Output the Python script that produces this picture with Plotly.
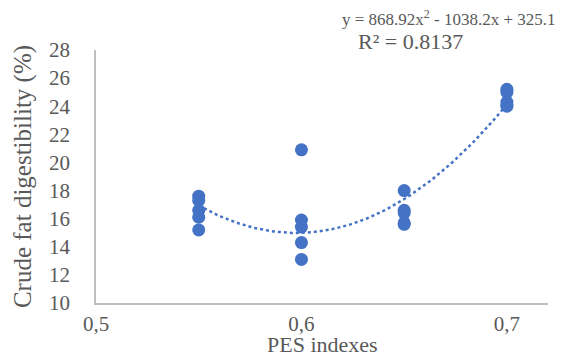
import plotly.graph_objects as go
import numpy as np

# Data
pes_index = [0.55]*5 + [0.60]*5 + [0.65]*5 + [0.70]*5
crude_fat_digestibility = [17.6, 17.3, 16.6, 16.1, 15.2,
                           20.9, 15.9, 15.4, 14.3, 13.1,
                           18.0, 16.6, 16.4, 15.7, 15.6,
                           25.2, 25.0, 24.3, 24.1, 24.0]
trend_coeffs = [868.92, -1038.2, 325.1]
r_squared = 0.8137
x_tick_vals = [0.5, 0.6, 0.7]
x_tick_text = ["0,5", "0,6", "0,7"]
y_tick_vals = [10, 12, 14, 16, 18, 20, 22, 24, 26, 28]

color = "#4472C4"
font_family = "Times New Roman, Liberation Serif, DejaVu Serif, serif"
text_color = "#595959"

xt = np.linspace(min(pes_index), max(pes_index), 100)
yt = np.polyval(trend_coeffs, xt)

fig = go.Figure()
fig.add_trace(go.Scatter(x=xt, y=yt, mode="lines",
                         line=dict(color=color, width=2.5, dash="dot"),
                         hoverinfo="skip", showlegend=False))
fig.add_trace(go.Scatter(x=pes_index, y=crude_fat_digestibility, mode="markers",
                         marker=dict(color=color, size=13), showlegend=False))

eq_text = "y = %.2fx<sup>2</sup> - %.1fx + %.1f" % (trend_coeffs[0], -trend_coeffs[1], trend_coeffs[2])
fig.add_annotation(text=eq_text, xref="paper", yref="paper", x=1.022, y=1.128,
                   xanchor="right", yanchor="middle", showarrow=False,
                   font=dict(family=font_family, size=17, color=text_color))
fig.add_annotation(text="R² = %.4f" % r_squared, xref="paper", yref="paper", x=0.695, y=1.035,
                   xanchor="center", yanchor="middle", showarrow=False,
                   font=dict(family=font_family, size=22, color=text_color))
fig.add_annotation(text="PES indexes", xref="paper", yref="paper", x=0.5, y=-0.165,
                   xanchor="center", yanchor="middle", showarrow=False,
                   font=dict(family=font_family, size=22, color=text_color))

fig.update_layout(
    width=563, height=362,
    margin=dict(l=88, r=23, t=42, b=67),
    paper_bgcolor="white", plot_bgcolor="white",
    font=dict(family=font_family, size=20, color=text_color),
    xaxis=dict(range=[0.5, 0.72], tickvals=x_tick_vals, ticktext=x_tick_text,
               showgrid=False, zeroline=False, showline=True, linecolor="#BFBFBF",
               linewidth=1.5, ticks="", ticklabelstandoff=1,
               tickfont=dict(family=font_family, size=21, color=text_color)),
    yaxis=dict(range=[10, 28], tickvals=y_tick_vals, showgrid=False, zeroline=False,
               showline=True, linecolor="#BFBFBF", linewidth=1.5, ticks="",
               ticklabelstandoff=20,
               tickfont=dict(family=font_family, size=21, color=text_color),
               title=dict(text="Crude fat digestibility (%)", standoff=10,
                          font=dict(family=font_family, size=25, color=text_color))),
)

fig.write_html("out.html")
